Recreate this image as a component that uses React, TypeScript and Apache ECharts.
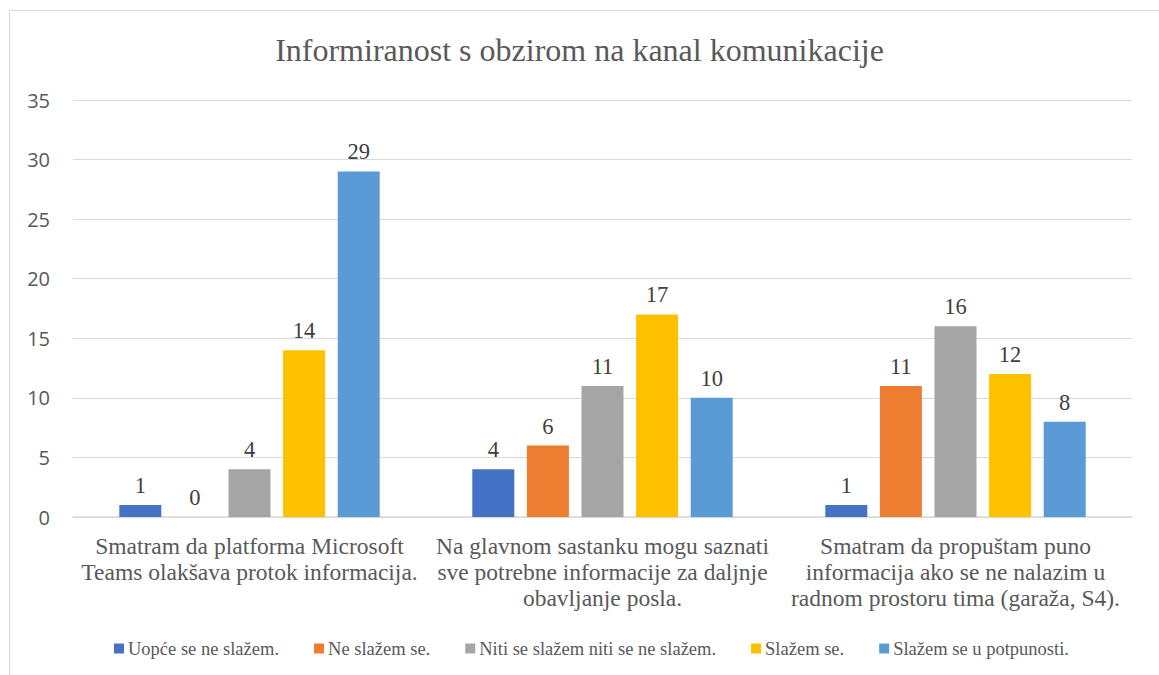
import React, { useEffect, useRef } from "react";
import * as echarts from "echarts";

const categories = [
  "Smatram da platforma Microsoft\nTeams olakšava protok informacija.",
  "Na glavnom sastanku mogu saznati\nsve potrebne informacije za daljnje\nobavljanje posla.",
  "Smatram da propuštam puno\ninformacija ako se ne nalazim u\nradnom prostoru tima (garaža, S4).",
];
const seriesNames = [
  "Uopće se ne slažem.",
  "Ne slažem se.",
  "Niti se slažem niti se ne slažem.",
  "Slažem se.",
  "Slažem se u potpunosti.",
];
const uopce = [1, 4, 1];
const neSlazem = [0, 6, 11];
const niti = [4, 11, 16];
const slazem = [14, 17, 12];
const potpuno = [29, 10, 8];
const colors = ["#4472C4", "#ED7D31", "#A5A5A5", "#FFC000", "#5B9BD5"];

const serif = "Liberation Serif";

export default function App() {
  const ref = useRef<HTMLDivElement>(null);
  useEffect(() => {
    if (!ref.current) return;
    const chart = echarts.init(ref.current, null, { renderer: "svg" });
    const values = [uopce, neSlazem, niti, slazem, potpuno];
    chart.setOption({
      animation: false,
      backgroundColor: "#ffffff",
      title: {
        text: "Informiranost s obzirom na kanal komunikacije",
        left: "center",
        top: 29,
        textStyle: { fontFamily: serif, fontSize: 32, fontWeight: "normal", color: "#595959" },
      },
      legend: {
        data: seriesNames,
        bottom: 12,
        left: 109,
        icon: "rect",
        itemWidth: 10,
        itemHeight: 10,
        itemGap: 35,
        textStyle: { fontFamily: serif, fontSize: 18.5, color: "#595959", padding: [0, 0, 0, -1] },
      },
      grid: { left: 73, right: 27, top: 100, bottom: 158, containLabel: false },
      xAxis: {
        type: "category",
        data: categories,
        axisLine: { lineStyle: { color: "#d9d9d9", width: 1.5 } },
        axisTick: { show: false },
        axisLabel: {
          interval: 0,
          fontFamily: serif,
          fontSize: 23.5,
          lineHeight: 26,
          color: "#595959",
          margin: 16,
          align: "center",
        },
      },
      yAxis: {
        type: "value",
        min: 0,
        max: 35,
        interval: 5,
        axisLine: { show: false },
        axisTick: { show: false },
        splitLine: { lineStyle: { color: "#d9d9d9", width: 1 } },
        axisLabel: { fontFamily: "Open Sans", fontSize: 20, color: "#595959", margin: 23 },
      },
      graphic: [
        { type: "line", shape: { x1: 9.5, y1: 10.5, x2: 1159, y2: 10.5 }, style: { stroke: "#d9d9d9", lineWidth: 1 } },
        { type: "line", shape: { x1: 9.5, y1: 10.5, x2: 9.5, y2: 675 }, style: { stroke: "#d9d9d9", lineWidth: 1 } },
      ],
      series: seriesNames.map((name, i) => ({
        name,
        type: "bar",
        data: values[i],
        barWidth: 42,
        barGap: "30%",
        itemStyle: { color: colors[i] },
        label: {
          show: true,
          position: "top",
          distance: 8,
          fontFamily: serif,
          fontSize: 22.5,
          color: "#404040",
        },
      })),
    });
    return () => chart.dispose();
  }, []);
  return (
    <div
      ref={ref}
      style={{ position: "absolute", left: 0, top: 0, width: 1159, height: 675 }}
    />
  );
}
